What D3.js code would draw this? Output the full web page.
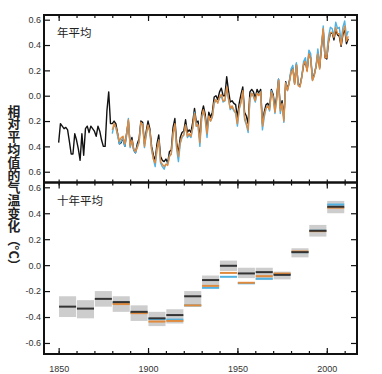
<!DOCTYPE html>
<html>
<head>
<meta charset="utf-8">
<script src="https://cdn.jsdelivr.net/npm/d3@7"></script>
<style>
  body { margin: 0; background: #fff; }
  svg { display: block; }
</style>
</head>
<body>
<script>
// annual series
const blackStart = 1850;
const blackVals = [
  -0.37, -0.22, -0.24, -0.26, -0.25, -0.27, -0.36, -0.46, -0.46, -0.30,
  -0.35, -0.42, -0.51, -0.30, -0.47, -0.26, -0.24, -0.29, -0.24, -0.26,
  -0.28, -0.32, -0.24, -0.28, -0.35, -0.40, -0.40, -0.12, 0.03, -0.22,
  -0.22, -0.20, -0.22, -0.30, -0.38, -0.37, -0.33, -0.40, -0.30, -0.20,
  -0.39, -0.33, -0.43, -0.45, -0.38, -0.34, -0.20, -0.21, -0.38, -0.28,
  -0.20, -0.26, -0.40, -0.47, -0.51, -0.38, -0.31, -0.48, -0.51, -0.52,
  -0.50, -0.53, -0.44, -0.43, -0.25, -0.18, -0.37, -0.46, -0.33, -0.29,
  -0.28, -0.19, -0.29, -0.27, -0.29, -0.21, -0.10, -0.21, -0.20, -0.35,
  -0.14, -0.08, -0.15, -0.28, -0.13, -0.17, -0.13, -0.01, 0.00, -0.03,
  0.03, 0.06, 0.00, 0.00, 0.15, 0.04, -0.05, -0.04, -0.06, -0.07,
  -0.17, -0.06, 0.01, 0.07, -0.13, -0.16, -0.22, 0.03, 0.05, 0.03,
  -0.02, 0.05, 0.02, 0.05, -0.22, -0.13, -0.07, -0.06, -0.09, 0.05,
  0.01, -0.10, 0.00, 0.13, -0.10, -0.04, -0.18, 0.11, 0.05, 0.11,
  0.19, 0.22, 0.10, 0.25, 0.09, 0.08, 0.15, 0.24, 0.27, 0.20,
  0.33, 0.30, 0.13, 0.17, 0.23, 0.34, 0.22, 0.38, 0.52, 0.30,
  0.29, 0.43, 0.49, 0.50, 0.44, 0.52, 0.48, 0.47, 0.39, 0.48,
  0.53, 0.41, 0.45
];

const otherStart = 1880;
const orangeVals = [
  -0.27, -0.22, -0.25, -0.30, -0.36, -0.33, -0.32, -0.38, -0.30, -0.19,
  -0.40, -0.35, -0.42, -0.44, -0.41, -0.37, -0.21, -0.23, -0.40, -0.30,
  -0.23, -0.28, -0.42, -0.50, -0.53, -0.42, -0.35, -0.52, -0.54, -0.56,
  -0.54, -0.55, -0.48, -0.46, -0.30, -0.22, -0.40, -0.48, -0.37, -0.32,
  -0.31, -0.23, -0.32, -0.30, -0.32, -0.25, -0.14, -0.24, -0.23, -0.37,
  -0.17, -0.11, -0.18, -0.30, -0.16, -0.20, -0.16, -0.05, -0.03, -0.06,
  -0.01, 0.01, -0.04, -0.04, 0.07, -0.02, -0.10, -0.08, -0.11, -0.13,
  -0.22, -0.10, -0.05, 0.04, -0.17, -0.22, -0.27, -0.02, 0.02, 0.00,
  -0.04, 0.02, 0.00, 0.03, -0.24, -0.15, -0.10, -0.08, -0.11, 0.03,
  -0.01, -0.13, -0.02, 0.12, -0.12, -0.06, -0.20, 0.10, 0.04, 0.10,
  0.18, 0.21, 0.09, 0.24, 0.08, 0.07, 0.14, 0.25, 0.27, 0.19,
  0.33, 0.29, 0.12, 0.16, 0.23, 0.33, 0.21, 0.39, 0.53, 0.30,
  0.30, 0.43, 0.50, 0.50, 0.46, 0.54, 0.49, 0.49, 0.40, 0.50,
  0.55, 0.43, 0.47
];
const blueVals = [
  -0.30, -0.23, -0.25, -0.32, -0.38, -0.36, -0.33, -0.40, -0.32, -0.18,
  -0.41, -0.36, -0.43, -0.45, -0.40, -0.36, -0.22, -0.22, -0.41, -0.31,
  -0.24, -0.28, -0.43, -0.50, -0.56, -0.43, -0.35, -0.53, -0.56, -0.58,
  -0.54, -0.54, -0.47, -0.46, -0.30, -0.23, -0.42, -0.52, -0.38, -0.33,
  -0.31, -0.23, -0.33, -0.31, -0.33, -0.26, -0.13, -0.24, -0.24, -0.40,
  -0.18, -0.12, -0.19, -0.33, -0.17, -0.20, -0.17, -0.06, -0.04, -0.05,
  -0.02, 0.00, -0.05, -0.04, 0.06, -0.03, -0.11, -0.09, -0.12, -0.14,
  -0.24, -0.11, -0.05, 0.03, -0.19, -0.23, -0.29, -0.03, 0.02, -0.01,
  -0.05, 0.02, 0.01, 0.03, -0.27, -0.17, -0.10, -0.08, -0.12, 0.04,
  -0.01, -0.14, -0.03, 0.13, -0.14, -0.07, -0.21, 0.10, 0.04, 0.11,
  0.21, 0.24, 0.09, 0.26, 0.09, 0.07, 0.15, 0.27, 0.30, 0.21,
  0.36, 0.33, 0.12, 0.16, 0.24, 0.37, 0.25, 0.38, 0.55, 0.33,
  0.34, 0.47, 0.54, 0.53, 0.47, 0.58, 0.53, 0.54, 0.43, 0.54,
  0.59, 0.47, 0.51
];

// decadal means
const decades = [1850, 1860, 1870, 1880, 1890, 1900, 1910, 1920, 1930, 1940, 1950, 1960, 1970, 1980, 1990, 2000];
const decHigh = [-0.24, -0.27, -0.20, -0.24, -0.31, -0.36, -0.34, -0.20, -0.08, 0.035, -0.02, -0.02, -0.05, 0.13, 0.31, 0.495];
const decLow = [-0.40, -0.41, -0.32, -0.36, -0.43, -0.47, -0.45, -0.32, -0.165, -0.045, -0.10, -0.115, -0.11, 0.06, 0.22, 0.40];
const decBlack = [-0.32, -0.335, -0.26, -0.285, -0.36, -0.41, -0.385, -0.24, -0.115, -0.005, -0.064, -0.054, -0.075, 0.10, 0.265, 0.45];
const decOrange = [null, null, null, -0.30, -0.37, -0.435, -0.43, -0.31, -0.16, -0.06, -0.136, -0.085, -0.065, 0.105, 0.262, 0.443];
const decBlue = [null, null, null, -0.29, -0.365, -0.415, -0.42, -0.31, -0.175, -0.09, -0.14, -0.105, -0.07, 0.10, 0.265, 0.467];

// ticks
const yTickVals = [0.6, 0.4, 0.2, 0.0, -0.2, -0.4, -0.6];
const topTickLabels = ["0.6", "0.4", "0.2", "0.0", "0.2", "0.4", "0.6"];
const bottomTickLabels = ["0.6", "0.4", "0.2", "0.0", "-0.2", "-0.4", "-0.6"];
const xMajor = [1850, 1900, 1950, 2000];
const xMinor = [1850, 1860, 1870, 1880, 1890, 1900, 1910, 1920, 1930, 1940, 1950, 1960, 1970, 1980, 1990, 2000, 2010];

const w = 382;
const h = 374;
const left = 44, right = 357;
const top1 = 15, mid = 182.5, bot2 = 354;

const cBlack = "#111";
const cOrange = "#e08a3e";
const cBlue = "#4fb2e3";

const svg = d3.select("body").append("svg").attr("width", w).attr("height", h);

const x = d3.scaleLinear().domain([1841.8, 2016.9]).range([left, right]);
const yTop = d3.scaleLinear().domain([-0.685, 0.637]).range([mid, top1]);
const yBot = d3.scaleLinear().domain([-0.685, 0.637]).range([bot2, mid]);

const toPts = (start, vals) => vals.map((v, i) => [start + i, v]);

// top panel lines
const lineTop = d3.line().x((d) => x(d[0])).y((d) => yTop(d[1]));
const gTop = svg.append("g");
[[toPts(blackStart, blackVals), cBlack], [toPts(otherStart, blueVals), cBlue], [toPts(otherStart, orangeVals), cOrange]].forEach(([pts, col]) => {
  gTop.append("path")
    .datum(pts)
    .attr("d", lineTop)
    .attr("fill", "none")
    .attr("stroke", col)
    .attr("stroke-width", 1.4)
    .attr("stroke-linejoin", "round");
});

// bottom panel boxes
const gBot = svg.append("g");
gBot.selectAll("rect.box")
  .data(decades)
  .enter()
  .append("rect")
  .attr("class", "box")
  .attr("x", (d) => x(d) + 0.4)
  .attr("width", (d) => x(d + 10) - x(d) - 0.8)
  .attr("y", (d, i) => yBot(decHigh[i]))
  .attr("height", (d, i) => yBot(decLow[i]) - yBot(decHigh[i]))
  .attr("fill", "#cdcdcd");

[[decBlue, cBlue], [decOrange, cOrange], [decBlack, "#333"]].forEach(([vals, col]) => {
  gBot.selectAll(null)
    .data(decades.filter((d, i) => vals[i] !== null))
    .enter()
    .append("line")
    .attr("x1", (d) => x(d) + 0.4)
    .attr("x2", (d) => x(d + 10) - 0.4)
    .attr("y1", (d) => yBot(vals[decades.indexOf(d)]))
    .attr("y2", (d) => yBot(vals[decades.indexOf(d)]))
    .attr("stroke", col)
    .attr("stroke-width", 2);
});

// axes
const styleAxis = (g) => {
  g.select(".domain").remove();
  g.selectAll("line").attr("stroke", "#111").attr("stroke-width", 1.2);
  g.selectAll("text").attr("font-family", "Liberation Sans, Arial, sans-serif").attr("font-size", 9).attr("fill", "#333");
};

[[yTop, topTickLabels, top1, mid], [yBot, bottomTickLabels, mid, bot2]].forEach(([ys, labels, t, b]) => {
  svg.append("g")
    .attr("transform", `translate(${left},0)`)
    .call(d3.axisLeft(ys).tickValues(yTickVals).tickSize(-6).tickPadding(3).tickFormat((d, i) => labels[i]))
    .call(styleAxis);
  svg.append("g")
    .attr("transform", `translate(${right},0)`)
    .call(d3.axisRight(ys).tickValues(yTickVals).tickSize(-6).tickFormat(""))
    .call(styleAxis);
  // x ticks top and bottom of each panel
  svg.append("g")
    .attr("transform", `translate(0,${t})`)
    .call(d3.axisTop(x).tickValues(xMinor).tickSize(-3).tickFormat(""))
    .call(styleAxis);
  svg.append("g")
    .attr("transform", `translate(0,${t})`)
    .call(d3.axisTop(x).tickValues(xMajor).tickSize(-6).tickFormat(""))
    .call(styleAxis);
  svg.append("g")
    .attr("transform", `translate(0,${b})`)
    .call(d3.axisBottom(x).tickValues(xMinor).tickSize(-3).tickFormat(""))
    .call(styleAxis);
});

svg.append("g")
  .attr("transform", `translate(0,${bot2})`)
  .call(d3.axisBottom(x).tickValues(xMajor).tickSize(-6).tickPadding(12).tickFormat(d3.format("d")))
  .call(styleAxis);

// frames
[[top1, mid], [mid, bot2]].forEach(([t, b]) => {
  svg.append("rect")
    .attr("x", left).attr("y", t)
    .attr("width", right - left).attr("height", b - t)
    .attr("fill", "none").attr("stroke", "#111").attr("stroke-width", 2);
});

// panel titles
const cjk = "'Noto Sans CJK SC', sans-serif";
svg.append("text").attr("x", 57).attr("y", 37).text("年平均")
  .attr("font-family", cjk).attr("font-size", 11.5).attr("fill", "#222");
svg.append("text").attr("x", 57).attr("y", 205).text("十年平均")
  .attr("font-family", cjk).attr("font-size", 11.5).attr("fill", "#222");

// y title, vertical
svg.append("text")
  .attr("x", 14).attr("y", 188)
  .attr("text-anchor", "middle")
  .style("writing-mode", "vertical-rl")
  .style("text-orientation", "mixed")
  .attr("font-family", cjk)
  .attr("font-weight", "bold")
  .attr("font-size", 12.8)
  .attr("fill", "#222")
  .text("相对平均值的气温变化（°C）");
</script>
</body>
</html>
